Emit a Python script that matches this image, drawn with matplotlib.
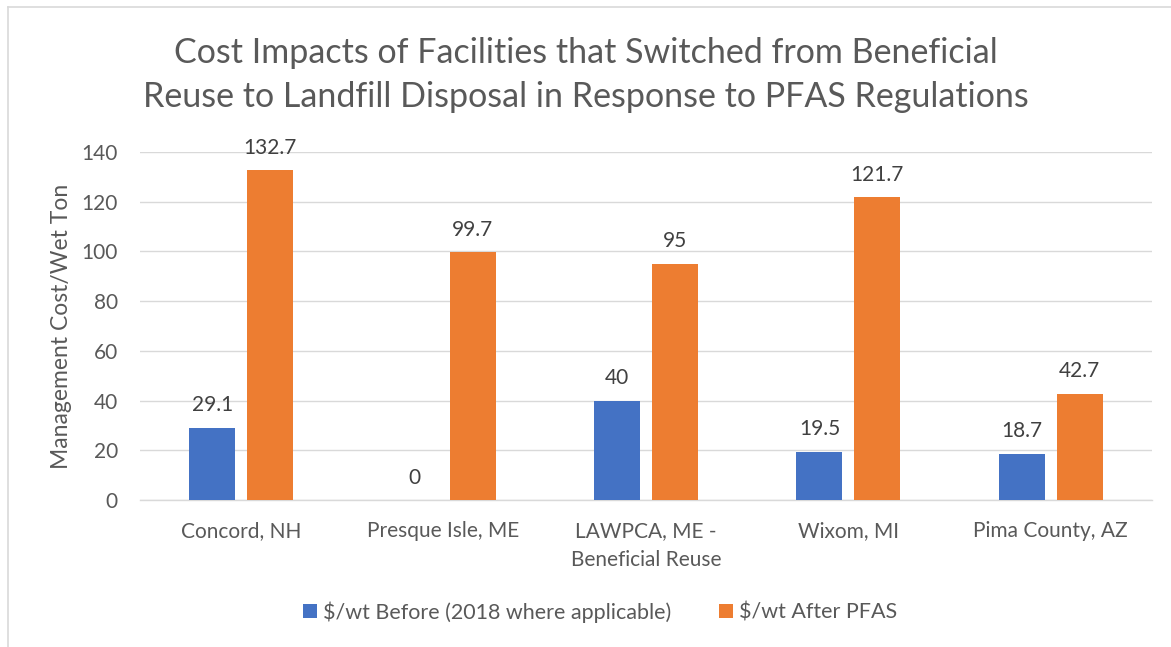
import matplotlib
matplotlib.use("Agg")
import matplotlib.pyplot as plt
import numpy as np
from matplotlib.lines import Line2D

categories = ["Concord, NH", "Presque Isle, ME", "LAWPCA, ME -\nBeneficial Reuse", "Wixom, MI", "Pima County, AZ"]
before = [29.1, 0, 40, 19.5, 18.7]
after = [132.7, 99.7, 95, 121.7, 42.7]
series_names = ["$/wt Before (2018 where applicable)", "$/wt After PFAS"]
yticks = [0, 20, 40, 60, 80, 100, 120, 140]

plt.rcParams['font.family'] = ['Lato', 'DejaVu Sans']
txt = '#595959'

fig = plt.figure(figsize=(11.71, 6.47), dpi=100)
ax = fig.add_axes([140/1171, 1-500/647, (1152-140)/1171, (500-152)/647])

x = np.arange(len(categories))
w = 0.227
off = 0.143
b1 = ax.bar(x - off, before, w, color='#4472C4', label=series_names[0], zorder=3)
b2 = ax.bar(x + off, after, w, color='#ED7D31', label=series_names[1], zorder=3)
for bars, vals in ((b1, before), (b2, after)):
    for r, v in zip(bars, vals):
        ax.annotate(f"{v:g}", (r.get_x() + r.get_width()/2, v), xytext=(0, 9),
                    textcoords='offset points', ha='center', va='bottom',
                    fontsize=15, color='#404040')

ax.set_xlim(-0.5, len(categories) - 0.5)
ax.set_ylim(0, 140)
ax.set_yticks(yticks)
ax.set_yticklabels([str(t) for t in yticks])
ax.set_xticks(x)
ax.set_xticklabels(categories, linespacing=1.55)
ax.tick_params(axis='both', length=0, labelsize=15, colors=txt)
ax.tick_params(axis='y', pad=16)
ax.tick_params(axis='x', pad=15)
ax.grid(axis='y', color='#D9D9D9', linewidth=1, zorder=0)
for s in ['top', 'right', 'left']:
    ax.spines[s].set_visible(False)
ax.spines['bottom'].set_color('#D9D9D9')
ax.spines['bottom'].set_linewidth(1)

ax.set_ylabel("Management Cost/Wet Ton", fontsize=16.5, color=txt)
ax.yaxis.set_label_coords(-(140-72)/1012, 0.5)

fig.text(0.5, 1-75/647, "Cost Impacts of Facilities that Switched from Beneficial\nReuse to Landfill Disposal in Response to PFAS Regulations",
         ha='center', va='center', fontsize=24.5, color=txt, linespacing=1.45)

leg = fig.legend(handles=[b1, b2], labels=series_names, loc='center', bbox_to_anchor=(600/1171, 1-612/647),
                 ncol=2, frameon=False, fontsize=15.5, handlelength=0.65, handleheight=0.65,
                 handletextpad=0.3, columnspacing=2.2)
for t in leg.get_texts():
    t.set_color(txt)

# chart border (top and left visible)
fig.add_artist(Line2D([8/1171, 1.0], [1-7/647, 1-7/647], transform=fig.transFigure, color='#D9D9D9', lw=1.2))
fig.add_artist(Line2D([8/1171, 8/1171], [0, 1-7/647], transform=fig.transFigure, color='#D9D9D9', lw=1.2))

fig.savefig("out.png", dpi=100)
